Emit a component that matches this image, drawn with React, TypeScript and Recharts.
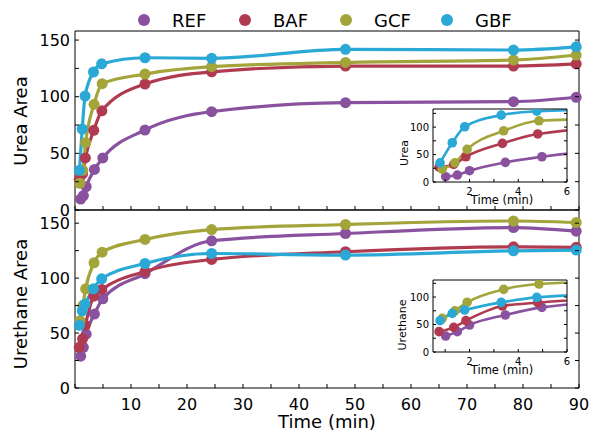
import React from 'react';
import { LineChart, Line, XAxis, YAxis } from 'recharts';

const seriesNames = ['REF', 'BAF', 'GCF', 'GBF'];
const seriesColors = ['#8A529E', '#B03B51', '#A3A53A', '#2AA8D6'];

const timeREF = [1.02, 1.5, 2.0, 3.47, 4.97, 12.5, 24.4, 48.3, 78.3, 89.5];
const timeBAF = [0.75, 1.35, 1.85, 3.35, 4.8, 12.5, 24.4, 48.3, 78.3, 89.5];
const timeGCF = [0.88, 1.4, 1.9, 3.4, 4.85, 12.5, 24.4, 48.3, 78.3, 89.5];
const timeGBF = [0.79, 1.29, 1.8, 3.3, 4.76, 12.5, 24.4, 48.3, 78.3, 89.5];

const ureaREF = [9.7, 12.7, 20.6, 35.8, 46, 70.6, 86.8, 94.7, 95.6, 99.5];
const ureaBAF = [27, 32, 46, 70.3, 87.5, 111.2, 122, 127, 127, 128.9];
const ureaGCF = [23.6, 35, 59.4, 93.3, 111.5, 120, 126.5, 130.3, 132.4, 136.8];
const ureaGBF = [35, 71.5, 100.6, 121.8, 129, 134.4, 133.9, 141.8, 141.2, 144];

const urethaneREF = [29, 37, 49, 67.3, 81.2, 104, 134, 140.6, 146, 142.7];
const urethaneBAF = [37, 44.8, 57, 83.6, 89.7, 106, 117, 124, 128.5, 128];
const urethaneGCF = [61.3, 75, 90.3, 114, 123.6, 135.2, 144.2, 148.8, 152, 150.6];
const urethaneGBF = [57, 70.3, 76.4, 90.3, 99.4, 113.3, 122.4, 121, 124.8, 125.5];

const xTicksMain = [0, 5, 10, 15, 20, 25, 30, 35, 40, 45, 50, 55, 60, 65, 70, 75, 80, 85, 90];
const xLabelsMain = [10, 20, 30, 40, 50, 60, 70, 80, 90];
const yTicksMain = [0, 25, 50, 75, 100, 125, 150];
const yLabelsMain = [0, 50, 100, 150];
const xTicksInset = [1, 2, 3, 4, 5, 6];
const xLabelsInset = [2, 4, 6];
const yTicksInset = [0, 25, 50, 75, 100, 125];
const yLabelsInset = [0, 50, 100];

const FONT = 'DejaVu Sans, sans-serif';

const toPoints = (times: number[], values: number[]) => times.map((t, i) => ({ t, v: values[i] }));

const ureaSeries = [
  toPoints(timeREF, ureaREF),
  toPoints(timeBAF, ureaBAF),
  toPoints(timeGCF, ureaGCF),
  toPoints(timeGBF, ureaGBF),
];
const urethaneSeries = [
  toPoints(timeREF, urethaneREF),
  toPoints(timeBAF, urethaneBAF),
  toPoints(timeGCF, urethaneGCF),
  toPoints(timeGBF, urethaneGBF),
];

type TickOpts = { orient: string; len: number; labels: number[]; fontSize: number; offset: number };

const makeTick = (o: TickOpts) => (props: any) => {
  const { x, y, payload } = props;
  const v = payload.value;
  const show = o.labels.includes(v);
  if (o.orient === 'bottom') {
    return (
      <g>
        <line x1={x} x2={x} y1={y} y2={y - o.len} stroke="#000" strokeWidth={1} />
        {show && (
          <text x={x} y={y + o.offset} textAnchor="middle" dominantBaseline="central" fontSize={o.fontSize} fill="#000" fontFamily={FONT}>
            {v}
          </text>
        )}
      </g>
    );
  }
  if (o.orient === 'top') {
    return <line x1={x} x2={x} y1={y} y2={y + o.len} stroke="#000" strokeWidth={1} />;
  }
  if (o.orient === 'left') {
    return (
      <g>
        <line x1={x} x2={x + o.len} y1={y} y2={y} stroke="#000" strokeWidth={1} />
        {show && (
          <text x={x - o.offset} y={y} textAnchor="end" dominantBaseline="central" fontSize={o.fontSize} fill="#000" fontFamily={FONT}>
            {v}
          </text>
        )}
      </g>
    );
  }
  return <line x1={x} x2={x - o.len} y1={y} y2={y} stroke="#000" strokeWidth={1} />;
};

type PanelProps = {
  left: number;
  top: number;
  right: number;
  bottom: number;
  xDomain: [number, number];
  yDomain: [number, number];
  xTicks: number[];
  xLabels: number[];
  yTicks: number[];
  yLabels: number[];
  fontSize: number;
  xOffset: number;
  yOffset: number;
  tickLen: number;
  series: { t: number; v: number }[][];
  strokeWidth: number;
  dotR: number;
  clip: boolean;
};

const Panel = (p: PanelProps) => {
  const W = 590;
  const H = 432;
  const axisLine = { stroke: '#000', strokeWidth: 1 };
  return (
    <LineChart
      width={W}
      height={H}
      margin={{ top: 0, right: 0, bottom: 0, left: 0 }}
      style={{ position: 'absolute', left: 0, top: 0, fontFamily: FONT }}
    >
      <XAxis
        xAxisId="b"
        dataKey="t"
        type="number"
        domain={p.xDomain}
        ticks={p.xTicks}
        interval={0}
        height={H - p.bottom}
        tickSize={0}
        tickMargin={0}
        tickLine={false}
        axisLine={axisLine}
        allowDataOverflow={p.clip}
        tick={makeTick({ orient: 'bottom', len: p.tickLen, labels: p.xLabels, fontSize: p.fontSize, offset: p.xOffset })}
      />
      <XAxis
        xAxisId="t"
        orientation="top"
        type="number"
        domain={p.xDomain}
        ticks={p.xTicks}
        interval={0}
        height={p.top}
        tickSize={0}
        tickMargin={0}
        tickLine={false}
        axisLine={axisLine}
        allowDataOverflow
        tick={makeTick({ orient: 'top', len: p.tickLen, labels: [], fontSize: p.fontSize, offset: 0 })}
      />
      <YAxis
        yAxisId="l"
        type="number"
        domain={p.yDomain}
        ticks={p.yTicks}
        interval={0}
        width={p.left}
        tickSize={0}
        tickMargin={0}
        tickLine={false}
        axisLine={axisLine}
        allowDataOverflow={p.clip}
        tick={makeTick({ orient: 'left', len: p.tickLen, labels: p.yLabels, fontSize: p.fontSize, offset: p.yOffset })}
      />
      <YAxis
        yAxisId="r"
        orientation="right"
        type="number"
        domain={p.yDomain}
        ticks={p.yTicks}
        interval={0}
        width={W - p.right}
        tickSize={0}
        tickMargin={0}
        tickLine={false}
        axisLine={axisLine}
        allowDataOverflow
        tick={makeTick({ orient: 'right', len: p.tickLen, labels: [], fontSize: p.fontSize, offset: 0 })}
      />
      {p.series.map((data, i) => (
        <Line
          key={seriesNames[i]}
          xAxisId="b"
          yAxisId="l"
          data={data}
          dataKey="v"
          type="monotone"
          stroke={seriesColors[i]}
          strokeWidth={p.strokeWidth}
          dot={{ r: p.dotR, fill: seriesColors[i], stroke: 'none', strokeWidth: 0 }}
          activeDot={false}
          isAnimationActive={false}
        />
      ))}
    </LineChart>
  );
};

const legendX = [144, 245, 346, 447];

export default function App() {
  return (
    <div style={{ position: 'fixed', left: 0, top: 0, width: 590, height: 432, background: '#fff', overflow: 'hidden' }}>
      <Panel
        left={75} top={31} right={579} bottom={210}
        xDomain={[0, 90]} yDomain={[0, 158]}
        xTicks={xTicksMain} xLabels={[]} yTicks={yTicksMain} yLabels={yLabelsMain}
        fontSize={16} xOffset={16} yOffset={5} tickLen={4}
        series={ureaSeries} strokeWidth={3.2} dotR={5.5} clip={false}
      />
      <Panel
        left={75} top={210} right={579} bottom={388}
        xDomain={[0, 90]} yDomain={[0, 162]}
        xTicks={xTicksMain} xLabels={xLabelsMain} yTicks={yTicksMain} yLabels={yLabelsMain}
        fontSize={16} xOffset={16} yOffset={5} tickLen={4}
        series={urethaneSeries} strokeWidth={3.2} dotR={5.5} clip={false}
      />
      <div style={{ position: 'absolute', left: 433, top: 109, width: 134, height: 73, background: '#fff' }} />
      <Panel
        left={433} top={109} right={567} bottom={182}
        xDomain={[0.5, 6]} yDomain={[0, 133]}
        xTicks={xTicksInset} xLabels={xLabelsInset} yTicks={yTicksInset} yLabels={yLabelsInset}
        fontSize={10} xOffset={9} yOffset={4} tickLen={3}
        series={ureaSeries} strokeWidth={2.6} dotR={4.8} clip={true}
      />
      <div style={{ position: 'absolute', left: 433, top: 280, width: 134, height: 72, background: '#fff' }} />
      <Panel
        left={433} top={280} right={567} bottom={352}
        xDomain={[0.5, 6]} yDomain={[0, 131]}
        xTicks={xTicksInset} xLabels={xLabelsInset} yTicks={yTicksInset} yLabels={yLabelsInset}
        fontSize={10} xOffset={9} yOffset={4} tickLen={3}
        series={urethaneSeries} strokeWidth={2.6} dotR={4.8} clip={true}
      />
      <svg width={590} height={432} style={{ position: 'absolute', left: 0, top: 0, pointerEvents: 'none' }} fontFamily={FONT}>
        {seriesNames.map((name, i) => (
          <g key={name}>
            <circle cx={legendX[i]} cy={20} r={6} fill={seriesColors[i]} />
            <text x={legendX[i] + 28} y={20} dominantBaseline="central" fontSize={18} fill="#000">
              {name}
            </text>
          </g>
        ))}
        <text x={327} y={421} textAnchor="middle" dominantBaseline="central" fontSize={18} fill="#000">Time (min)</text>
        <text x={20} y={121} textAnchor="middle" dominantBaseline="central" fontSize={18} fill="#000" transform="rotate(-90 20 121)">Urea Area</text>
        <text x={20} y={304} textAnchor="middle" dominantBaseline="central" fontSize={18} fill="#000" transform="rotate(-90 20 304)">Urethane Area</text>
        <text x={502} y={200} textAnchor="middle" dominantBaseline="central" fontSize={11.5} fill="#000">Time (min)</text>
        <text x={404} y={153} textAnchor="middle" dominantBaseline="central" fontSize={11} fill="#000" transform="rotate(-90 404 153)">Urea</text>
        <text x={502} y={370} textAnchor="middle" dominantBaseline="central" fontSize={11.5} fill="#000">Time (min)</text>
        <text x={402} y={325} textAnchor="middle" dominantBaseline="central" fontSize={11} fill="#000" transform="rotate(-90 402 325)">Urethane</text>
      </svg>
    </div>
  );
}
